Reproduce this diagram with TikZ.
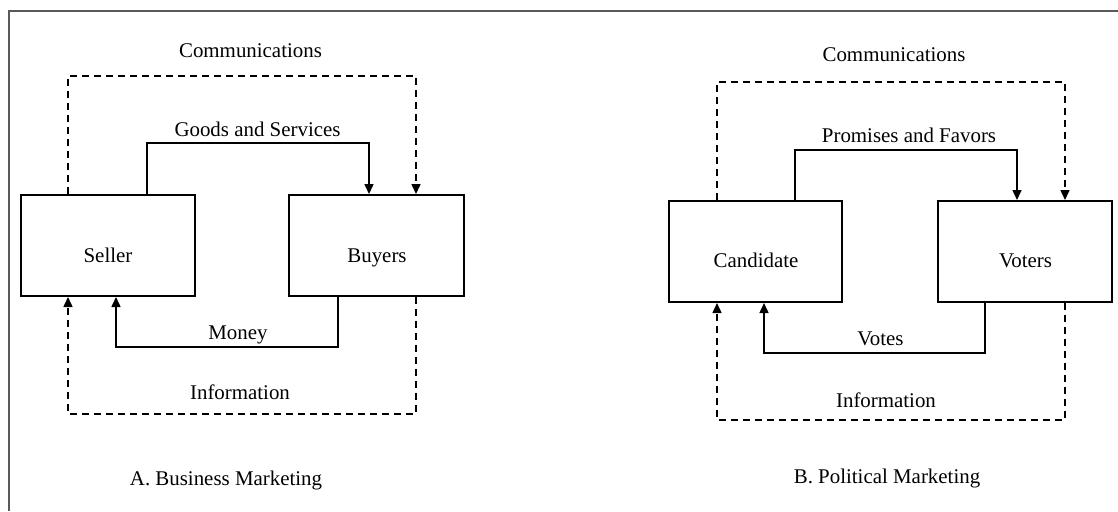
\documentclass[tikz,border=0pt]{standalone}
\usepackage{fontspec}
\setmainfont{Liberation Serif}
\usetikzlibrary{arrows.meta}
\begin{document}
\begin{tikzpicture}[x=0.5pt,y=-0.5pt,
  box/.style={draw=black,line width=1pt,inner sep=0pt,minimum height=50.5pt},
  conn/.style={line width=0.75pt,-{Triangle[length=5pt,width=4.5pt]}},
  dconn/.style={conn,dash pattern=on 3.5pt off 2.5pt},
  txt/.style={anchor=base,inner sep=0pt,font=\fontsize{10.45}{12}\selectfont},
  frame/.style={draw=black!65,line width=0.75pt}]
\useasboundingbox (0,0) rectangle (1118,511);
\coordinate (ftop) at (1118,11);
\coordinate (fcorner) at (9,11);
\coordinate (fbot) at (9,511);
\draw[frame] (ftop) -- (fcorner) -- (fbot);
% ---------- A ----------
\node[box,minimum width=87pt] (seller) at (108,245.5) {};
\node[box,minimum width=87.5pt] (buyers) at (376.5,245.5) {};
\node[txt] (tseller) at (108,262) {Seller};
\node[txt] (tbuyers) at (377,262) {Buyers};
\draw[dconn] ([xshift=-20pt]seller.north) |- ++(0,-118) -| ([xshift=19.75pt]buyers.north);
\draw[conn] ([xshift=19.5pt]seller.north) |- ++(0,-51) -| ([xshift=-3.75pt]buyers.north);
\draw[conn] ([xshift=-19.25pt]buyers.south) |- ++(0,50) -| ([xshift=4pt]seller.south);
\draw[dconn] ([xshift=19.75pt]buyers.south) |- ++(0,117) -| ([xshift=-20pt]seller.south);
\node[txt] (tcomA) at (250.5,57) {Communications};
\node[txt] (tgoods) at (257.5,136) {Goods and Services};
\node[txt] (tmoney) at (238,339) {Money};
\node[txt] (tinfoA) at (240,399) {Information};
\node[txt] (tA) at (226,485) {A. Business Marketing};
% ---------- B ----------
\node[box,minimum width=86.5pt] (cand) at (755.5,251.5) {};
\node[box,minimum width=87pt] (voters) at (1025,251.5) {};
\node[txt] (tcand) at (756,267) {Candidate};
\node[txt] (tvoters) at (1025.5,267) {Voters};
\draw[dconn] ([xshift=-19.25pt]cand.north) |- ++(0,-118) -| ([xshift=20pt]voters.north);
\draw[conn] ([xshift=19.75pt]cand.north) |- ++(0,-50) -| ([xshift=-4pt]voters.north);
\draw[conn] ([xshift=-20pt]voters.south) |- ++(0,50) -| ([xshift=4.25pt]cand.south);
\draw[dconn] ([xshift=20pt]voters.south) |- ++(0,117) -| ([xshift=-19.25pt]cand.south);
\node[txt] (tcomB) at (894,61.5) {Communications};
\node[txt] (tprom) at (909,142) {Promises and Favors};
\node[txt] (tvotes) at (880.5,345) {Votes};
\node[txt] (tinfoB) at (886,407) {Information};
\node[txt] (tB) at (887,483) {B. Political Marketing};
\end{tikzpicture}
\end{document}
